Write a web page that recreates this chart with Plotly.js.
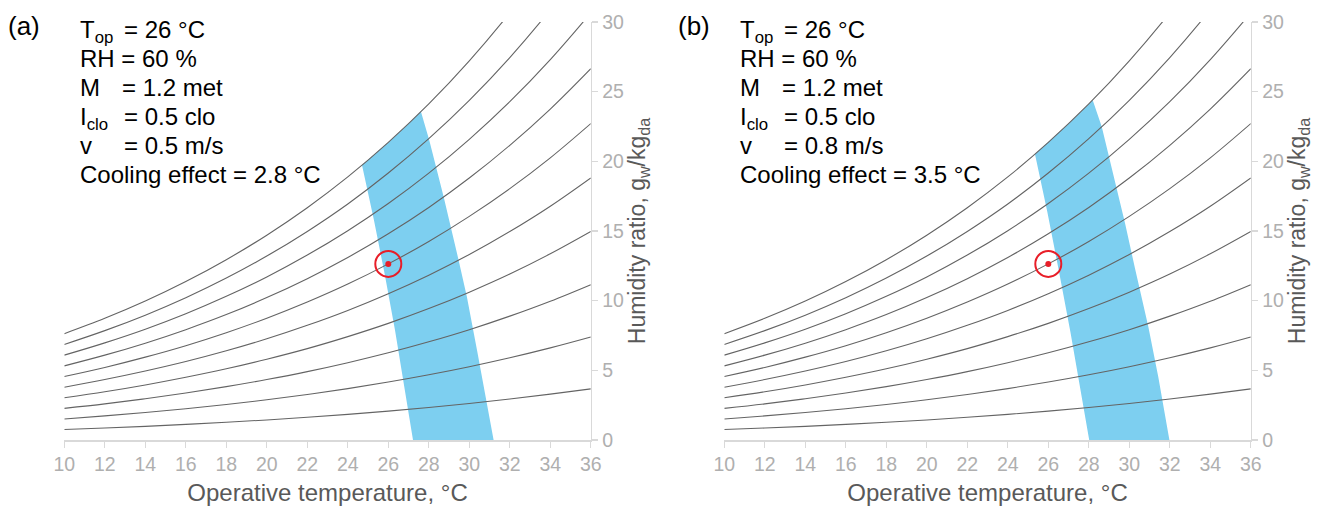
<!DOCTYPE html>
<html>
<head>
<meta charset="utf-8">
<script src="https://cdn.plot.ly/plotly-3.0.1.min.js"></script>
<style>html,body{margin:0;padding:0;background:#fff;}#chart{width:1326px;height:506px;}</style>
</head>
<body>
<div id="chart"></div>
<script>
// Dry-bulb temperatures (°C) at which the RH curves were read
const temps = [10,12,14,16,18,20,22,24,26,28,30,32,34,36];
// Humidity ratio (g/kg) along relative humidity curves 10% ... 100%
const rh10  = [0.75,0.86,0.98,1.12,1.27,1.44,1.63,1.84,2.07,2.33,2.62,2.94,3.29,3.67];
const rh20  = [1.51,1.73,1.97,2.24,2.55,2.89,3.27,3.69,4.16,4.68,5.26,5.90,6.61,7.39];
const rh30  = [2.27,2.59,2.96,3.37,3.83,4.34,4.91,5.55,6.26,7.05,7.92,8.89,9.96,11.15];
const rh40  = [3.03,3.46,3.95,4.50,5.11,5.80,6.56,7.42,8.37,9.43,10.61,11.91,13.36,14.96];
const rh50  = [3.79,4.34,4.95,5.63,6.40,7.26,8.23,9.30,10.50,11.83,13.31,14.96,16.78,18.81];
const rh60  = [4.56,5.21,5.95,6.77,7.70,8.74,9.90,11.19,12.64,14.25,16.05,18.04,20.25,22.71];
const rh70  = [5.32,6.09,6.95,7.92,9.00,10.22,11.58,13.10,14.80,16.69,18.80,21.15,23.75,26.65];
const rh80  = [6.09,6.97,7.95,9.06,10.31,11.70,13.27,15.02,16.97,19.15,21.58,24.28,27.30,30.65];
const rh90  = [6.86,7.85,8.96,10.21,11.62,13.20,14.97,16.94,19.16,21.63,24.38,27.45,30.88,34.69];
const rh100 = [7.63,8.73,9.97,11.37,12.94,14.70,16.67,18.88,21.36,24.12,27.21,30.66,34.50,38.79];
const rhCurves = [rh10,rh20,rh30,rh40,rh50,rh60,rh70,rh80,rh90,rh100];

// Comfort zone polygons (temperature, humidity ratio)
const bandA_T = [24.70,25.00,26.00,27.00,27.61,28.02,28.73,29.47,29.88,30.38,30.79,31.20,27.22,26.79,26.33,25.83,25.29];
const bandA_W = [19.73,20.09,21.36,22.70,23.57,21.54,17.47,12.92,10.29,6.46,3.35,0,0,3.95,7.90,11.84,15.79];
const bandB_T = [25.34,26.00,27.00,28.00,28.19,28.64,29.29,29.79,30.28,30.94,31.43,31.68,31.98,28.02,27.62,27.09,26.53,25.95];
const bandB_W = [20.52,21.36,22.70,24.12,24.40,22.49,18.66,15.56,12.33,8.13,4.54,2.39,0,0,3.47,7.77,12.08,16.39];

// Operating point
const pointT = [26];
const pointW = [12.64];

// Axis ticks
const xTicks = [10,12,14,16,18,20,22,24,26,28,30,32,34,36];
const yTicks = [0,5,10,15,20,25,30];

// Annotation texts
const panelLabels = ['(a)','(b)'];
const velocities = ['0.5','0.8'];
const coolingEffects = ['2.8','3.5'];

const FONT = 'Liberation Sans, Arial, sans-serif';
const W = 1326, H = 506;
const px = v => v / W;
const py = v => 1 - v / H;

const traces = [];
[['x','y',bandA_T,bandA_W],['x2','y2',bandB_T,bandB_W]].forEach(([xa,ya,bt,bw]) => {
  traces.push({x: bt, y: bw, xaxis: xa, yaxis: ya, type: 'scatter', mode: 'lines',
    fill: 'toself', fillcolor: 'rgb(125,207,240)', line: {width: 0, color: 'rgba(0,0,0,0)'},
    hoverinfo: 'skip', showlegend: false});
  rhCurves.forEach(c => traces.push({x: temps, y: c, xaxis: xa, yaxis: ya, type: 'scatter',
    mode: 'lines', line: {color: 'rgb(100,100,100)', width: 1.1, shape: 'spline', smoothing: 1},
    showlegend: false, hoverinfo: 'skip'}));
  traces.push({x: pointT, y: pointW, xaxis: xa, yaxis: ya, type: 'scatter', mode: 'markers',
    marker: {symbol: 'circle-open', size: 26, color: 'rgb(232,30,40)', line: {width: 2, color: 'rgb(232,30,40)'}},
    showlegend: false});
  traces.push({x: pointT, y: pointW, xaxis: xa, yaxis: ya, type: 'scatter', mode: 'markers',
    marker: {symbol: 'circle', size: 6, color: 'rgb(232,30,40)'}, showlegend: false});
});

const axisX = dom => ({
  domain: dom, range: [10,36], tickvals: xTicks, ticktext: xTicks.map(String),
  showline: true, linecolor: 'rgb(217,217,217)', linewidth: 1.5, ticks: 'outside',
  tickcolor: 'rgb(217,217,217)', ticklen: 6, tickwidth: 1.2, showgrid: false, zeroline: false,
  tickfont: {family: FONT, size: 19.5, color: 'rgb(175,175,175)'},
  title: {text: 'Operative temperature, °C', font: {family: FONT, size: 24, color: 'rgb(89,89,89)'}, standoff: 12}
});
const axisY = (anchor) => ({
  domain: [66/H, 1 - 22/H], range: [0,30], tickvals: yTicks, ticktext: yTicks.map(String),
  side: 'right', anchor: anchor,
  showline: true, linecolor: 'rgb(217,217,217)', linewidth: 1.5, ticks: 'outside',
  tickcolor: 'rgb(217,217,217)', ticklen: 6, tickwidth: 1.2, showgrid: false, zeroline: false,
  tickfont: {family: FONT, size: 19.5, color: 'rgb(175,175,175)'},
  title: {text: 'Humidity ratio, g<sub>w</sub>/kg<sub>da</sub>', font: {family: FONT, size: 23, color: 'rgb(89,89,89)'}, standoff: 6}
});

const annotations = [];
[0, 660].forEach((off, i) => {
  const tf = {family: FONT, size: 24, color: 'rgb(0,0,0)'};
  const add = (text, x, ytop) => annotations.push({text: text, xref: 'paper', yref: 'paper',
    x: px(x + off), y: py(ytop), xanchor: 'left', yanchor: 'top', showarrow: false, font: tf, borderpad: 0});
  annotations.push({text: panelLabels[i], xref: 'paper', yref: 'paper', x: px(7 + off + (i ? 10 : 0)), y: py(10),
    xanchor: 'left', yanchor: 'top', showarrow: false, font: {family: FONT, size: 26, color: 'rgb(0,0,0)'}, borderpad: 0});
  const tops = [15, 44, 73, 102, 131, 160];
  add('T<sub>op</sub>', 79, tops[0]);
  add('= 26 °C', 123, tops[0]);
  add('RH = 60 %', 79, tops[1]);
  add('M', 79, tops[2]);
  add('= 1.2 met', 121, tops[2]);
  add('I<sub>clo</sub>', 79, tops[3]);
  add('= 0.5 clo', 123, tops[3]);
  add('v', 79, tops[4]);
  add('= ' + velocities[i] + ' m/s', 123, tops[4]);
  add('Cooling effect = ' + coolingEffects[i] + ' °C', 79, tops[5]);
});

const layout = {
  width: W, height: H,
  margin: {l: 0, r: 0, t: 0, b: 0},
  paper_bgcolor: '#fff', plot_bgcolor: '#fff',
  showlegend: false,
  font: {family: FONT},
  xaxis: axisX([64.3/W, 590.8/W]),
  yaxis: axisY('x'),
  xaxis2: Object.assign(axisX([724.3/W, 1250.8/W]), {anchor: 'y2'}),
  yaxis2: axisY('x2'),
  annotations: annotations
};
layout.xaxis.anchor = 'y';

Plotly.newPlot('chart', traces, layout, {displayModeBar: false, staticPlot: true});
</script>
</body>
</html>
